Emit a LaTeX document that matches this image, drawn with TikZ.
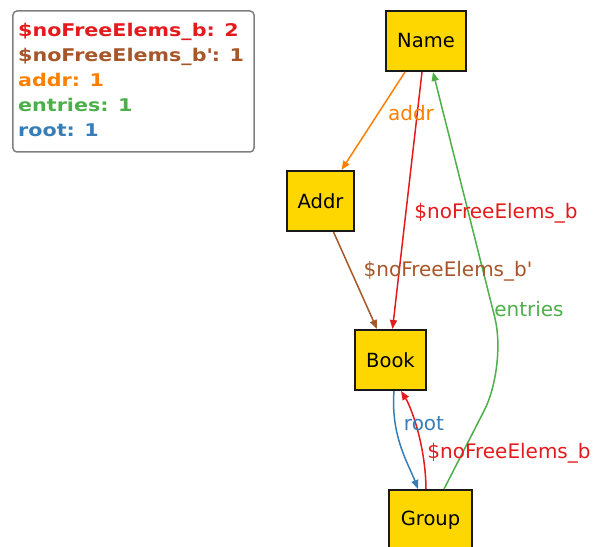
\documentclass[tikz,border=0pt]{standalone}
\usepackage{fontspec}
\setmainfont{DejaVu Sans}
\newfontfamily\legfont{DejaVu Sans}[FakeStretch=1.18]
\usetikzlibrary{arrows.meta,calc}
\definecolor{cred}{HTML}{E41A1C}
\definecolor{cbrown}{HTML}{A65628}
\definecolor{corange}{HTML}{FF7F00}
\definecolor{cgreen}{HTML}{4DAF4A}
\definecolor{cblue}{HTML}{377EB8}
\definecolor{cgold}{HTML}{FFD700}
\definecolor{cframe}{HTML}{7F7F7F}
\begin{document}
\begin{tikzpicture}[x=1bp,y=-1bp,
  cls/.style={draw=black!90,fill=cgold,line width=2bp,inner sep=0pt,minimum height=60bp,
    font=\fontsize{19.5bp}{23bp}\selectfont},
  edge/.style={line width=1.5bp,-{Triangle[length=9bp,width=7bp]}},
  elabel/.style={font=\fontsize{20bp}{24bp}\selectfont,inner sep=0pt},
  legline/.style={anchor=base west,inner sep=0pt,font=\legfont\bfseries\fontsize{17.5bp}{20bp}\selectfont}]
\useasboundingbox (0,0) rectangle (593,547);
% legend
\node[draw=cframe,line width=1.5bp,rounded corners=4bp,minimum width=241bp,minimum height=141bp,inner sep=0pt] (legend) at (133.5,81.5) {};
\node[legline,text=cred]    (l1) at (18,37)  {\$noFreeElems\_b: 2};
\node[legline,text=cbrown]  (l2) at (18,62)  {\$noFreeElems\_b\textquotesingle: 1};
\node[legline,text=corange] (l3) at (18,87)  {addr: 1};
\node[legline,text=cgreen]  (l4) at (18,112) {entries: 1};
\node[legline,text=cblue]   (l5) at (18,137) {root: 1};
% nodes
\node[cls,minimum width=80bp] (Name)  at (426,41)    {Name};
\node[cls,minimum width=67bp] (Addr)  at (320.5,201) {Addr};
\node[cls,minimum width=71bp] (Book)  at (390.5,360) {Book};
\node[cls,minimum width=83bp] (Group) at (430.5,520) {Group};
% edges
\draw[edge,corange] ($(Name.south)+(-21,0)$) -- ($(Addr.north)+(21,0)$);
\draw[edge,cred] ($(Name.south)+(-4,0)$) -- ($(Book.north)+(2,0)$);
\draw[edge,cbrown] ($(Addr.south)+(13,0)$) -- ($(Book.north)+(-13.5,0)$);
\coordinate (bend) at (507,366);
\draw[edge,cgreen,rounded corners=50bp] ($(Group.north)+(13.5,0)$) -- (bend) -- ($(Name.south)+(7,0)$);
\draw[edge,cblue] ($(Book.south)+(3.5,0)$) .. controls ($(Book.south)+(0,45)$) and ($(Group.north)+(-22,-25)$) .. ($(Group.north)+(-12.5,0)$);
\draw[edge,cred] ($(Group.north)+(-4.5,0)$) .. controls ($(Group.north)+(-5,-45)$) and ($(Book.south)+(20,15)$) .. ($(Book.south)+(10.5,0)$);
% edge labels
\node[elabel,text=corange] (la) at (411,113) {addr};
\node[elabel,text=cred]    (lb) at (496,213) {\$noFreeElems\_b};
\node[elabel,text=cbrown]  (lc) at (448,271) {\$noFreeElems\_b\textquotesingle};
\node[elabel,text=cgreen]  (ld) at (529,309) {entries};
\node[elabel,text=cblue]   (le) at (424,424) {root};
\node[elabel,text=cred]    (lf) at (509,453) {\$noFreeElems\_b};
\end{tikzpicture}
\end{document}
